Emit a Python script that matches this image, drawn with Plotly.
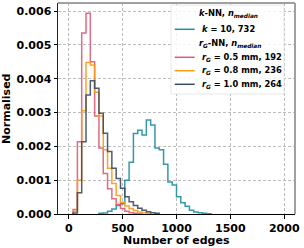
import plotly.graph_objects as go

# ---------------- data (density per bin, bin width 40 edges) ----------------
BIN_WIDTH = 40

knn_start = 280
knn_vals = [0.00002, 0.00003, 0.00008, 0.00015, 0.00025, 0.00030, 0.00100, 0.00153,
            0.00238, 0.00248, 0.00234, 0.00278, 0.00263, 0.00195, 0.00190, 0.00147,
            0.00095, 0.00086, 0.00051, 0.00033, 0.00023, 0.00011, 0.00006, 0.00004,
            0.00002, 0.00001]

r05_start = 40
r05_vals = [0.00013, 0.00214, 0.00535, 0.00594, 0.00450, 0.00290, 0.00195, 0.00120,
            0.00075, 0.00045, 0.00028, 0.00016, 0.00008, 0.00004, 0.00002, 0.00001]

r08_start = 40
r08_vals = [0.00008, 0.00100, 0.00305, 0.00448, 0.00441, 0.00360, 0.00290, 0.00190,
            0.00135, 0.00090, 0.00055, 0.00035, 0.00024, 0.00016, 0.00010, 0.00006,
            0.00004, 0.00002]

r10_start = 40
r10_vals = [0.00003, 0.00063, 0.00214, 0.00352, 0.00394, 0.00372, 0.00298, 0.00239,
            0.00185, 0.00135, 0.00105, 0.00076, 0.00051, 0.00036, 0.00025, 0.00017,
            0.00011, 0.00007, 0.00004, 0.00002]

series_names = ["k = 10, 732", "r_G = 0.5 mm, 192", "r_G = 0.8 mm, 236", "r_G = 1.0 mm, 264"]
colors = ["#1f8fa3", "#de5b77", "#fb9a14", "#3d4b61"]

x_ticks = [0, 500, 1000, 1500, 2000]
y_ticks = [0.000, 0.001, 0.002, 0.003, 0.004, 0.005, 0.006]

# ---------------- layout geometry (pixels) ----------------
W, H = 304, 248
ML, MR, MT, MB = 58, 9, 3, 34
PW, PH = W - ML - MR, H - MT - MB


def px(xp):
    return (xp - ML) / PW


def py(yp):
    return (H - MB - yp) / PH


def step(start, vals):
    edges = [start + BIN_WIDTH * i for i in range(len(vals) + 1)]
    x = [edges[0]] + edges[:-1] + [edges[-1]]
    y = [0] + list(vals) + [0]
    return x, y


fig = go.Figure()
for (start, vals), name, col in zip(
        [(knn_start, knn_vals), (r05_start, r05_vals), (r08_start, r08_vals), (r10_start, r10_vals)],
        series_names, colors):
    x, y = step(start, vals)
    fig.add_trace(go.Scatter(x=x, y=y, mode="lines", line=dict(color=col, width=1.5, shape="hv"),
                             name=name, showlegend=False, opacity=0.9))

tick_font = dict(family="DejaVu Sans", size=11, color="black", weight="bold")
grid = dict(showgrid=True, gridcolor="#bdbdbd", gridwidth=0.8, griddash="3px,2px")

fig.update_xaxes(range=[-100, 2100], tickvals=x_ticks, tickfont=tick_font, zeroline=False,
                 showline=True, linecolor="black", linewidth=1, ticks="outside", ticklen=3.5,
                 tickwidth=1, tickcolor="black", **grid)
fig.update_yaxes(range=[0, 0.00624], tickvals=y_ticks, tickformat=".3f", tickfont=tick_font,
                 zeroline=False, showline=True, linecolor="#222222", linewidth=1, ticks="outside",
                 ticklen=3.5, tickwidth=1, tickcolor="black", **grid)

shapes = [
    dict(type="line", xref="paper", yref="paper", x0=0, x1=1, y0=1, y1=1,
         line=dict(color="#a0a0a0", width=2)),
    dict(type="line", xref="paper", yref="paper", x0=1, x1=1, y0=0, y1=1,
         line=dict(color="#a0a0a0", width=2)),
    # legend frame
    dict(type="rect", xref="paper", yref="paper", x0=px(171), x1=px(284), y0=py(94), y1=py(5),
         fillcolor="rgba(255,255,255,0.85)", line=dict(color="#e2e2e2", width=0.8), layer="above"),
]

leg_font = dict(family="DejaVu Sans", size=8.3, color="black")
rows = [
    (13.3, None, "<b><i>k</i>-NN, <i>n</i><sub><i>median</i></sub></b>"),
    (29.3, 0, "<b><i>k</i> = 10, 732</b>"),
    (43.3, None, "<b><i>r</i><sub><i>G</i></sub>-NN, <i>n</i><sub><i>median</i></sub></b>"),
    (57.3, 1, "<b><i>r</i><sub><i>G</i></sub> = 0.5 mm, 192</b>"),
    (70.7, 2, "<b><i>r</i><sub><i>G</i></sub> = 0.8 mm, 236</b>"),
    (84.3, 3, "<b><i>r</i><sub><i>G</i></sub> = 1.0 mm, 264</b>"),
]
annotations = []
for yrow, ci, txt in rows:
    if ci is not None:
        shapes.append(dict(type="line", xref="paper", yref="paper", x0=px(174.7), x1=px(194.7),
                           y0=py(yrow), y1=py(yrow), line=dict(color=colors[ci], width=1.5),
                           layer="above"))
    annotations.append(dict(x=px(198 if ci is None else 201), y=py(yrow), xref="paper", yref="paper",
                            text=txt, showarrow=False, xanchor="left", yanchor="middle",
                            font=leg_font, borderpad=0))

title_font = dict(family="DejaVu Sans", size=11, color="black", weight="bold")
annotations.append(dict(x=px(176.5), y=py(240), xref="paper", yref="paper", text="Number of edges",
                        showarrow=False, xanchor="center", yanchor="middle", font=title_font,
                        borderpad=0))
annotations.append(dict(x=px(6.5), y=py(108.5), xref="paper", yref="paper", text="Normalised",
                        textangle=-90, showarrow=False, xanchor="center", yanchor="middle",
                        font=title_font, borderpad=0))

fig.update_layout(width=W, height=H, margin=dict(l=ML, r=MR, t=MT, b=MB, pad=0),
                  paper_bgcolor="white", plot_bgcolor="white", showlegend=False,
                  shapes=shapes, annotations=annotations)

fig.write_html("out.html", config={"displayModeBar": False},
               post_script="document.body.style.margin='0';document.body.style.padding='0';")
